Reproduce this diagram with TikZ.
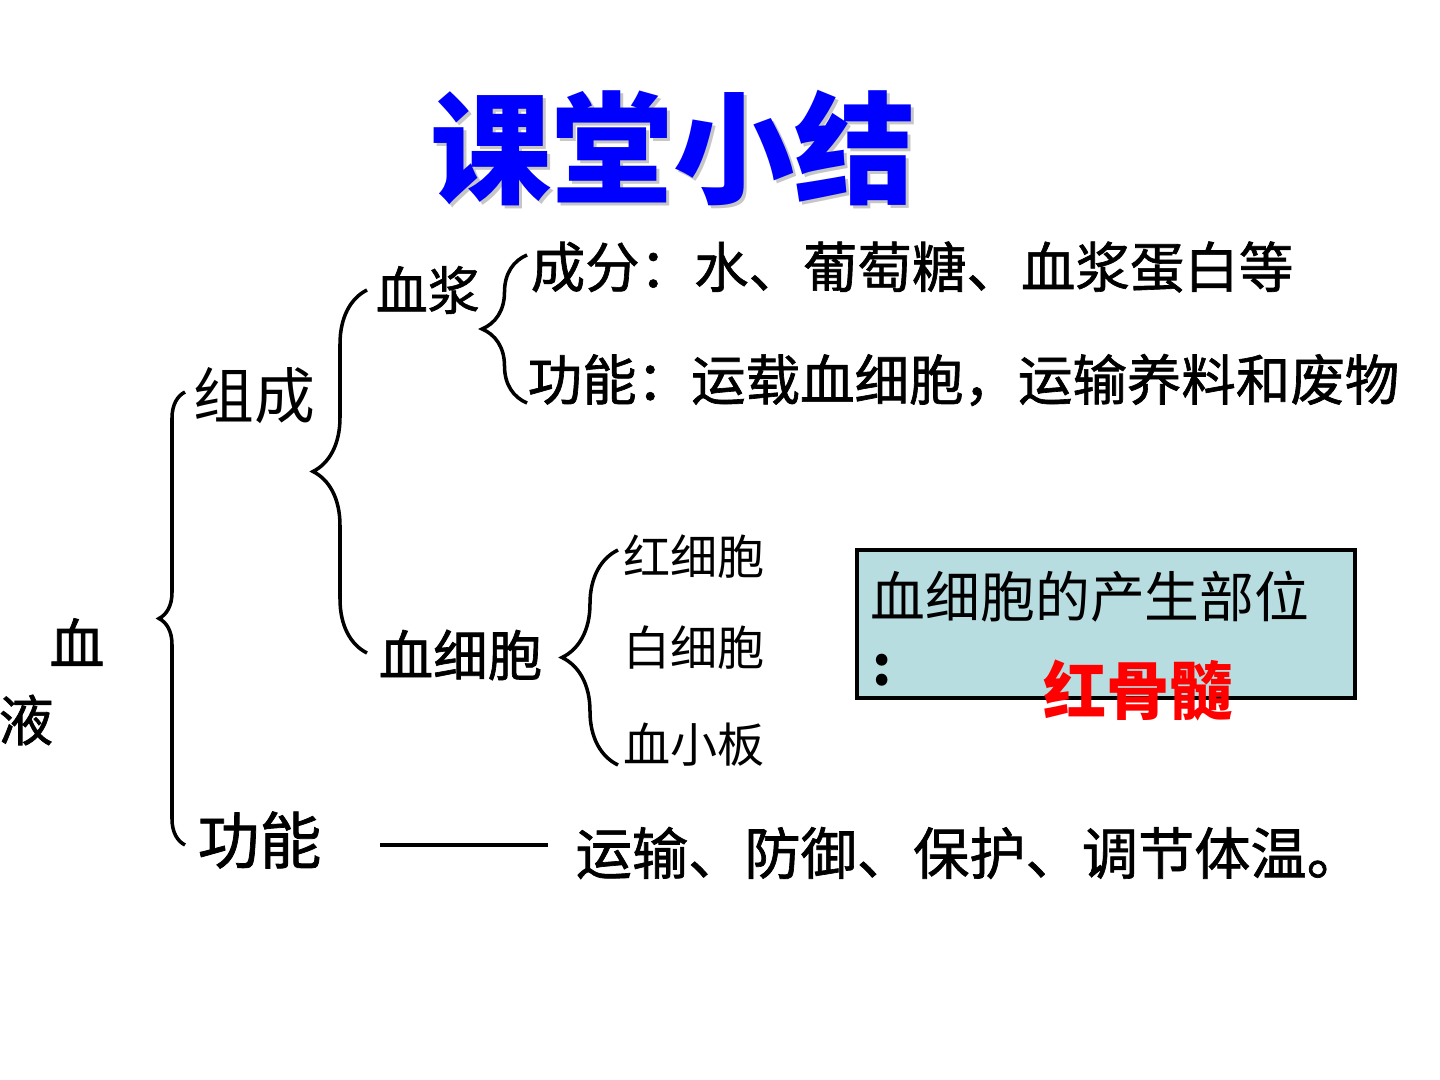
\documentclass[tikz,border=0pt]{standalone}
\usepackage{fontspec}
\usetikzlibrary{decorations.pathreplacing}
\newfontfamily\cjk{Noto Sans CJK SC}
\newfontfamily\cjkm[FakeBold=1.2]{Noto Sans CJK SC}
\definecolor{boxfill}{HTML}{B8DDE1}
\newcommand{\fs}[1]{\fontsize{#1}{#1}\selectfont}
\tikzset{
  brc/.style={decorate,decoration={brace,amplitude=#1,aspect=0.5},line width=1pt},
  lbl/.style={font=\cjkm\fs{15.5},inner sep=0pt,anchor=west},
  sml/.style={font=\cjk\fs{13.4},inner sep=0pt,anchor=west},
}
\begin{document}
\begin{tikzpicture}
  \useasboundingbox (0,0) rectangle (14.4,-10.8);
  % title
  \node[font=\cjk\bfseries\fs{34.5},gray!45] (shd) at (6.76,-1.51) {课堂小结};
  \node[font=\cjk\bfseries\fs{34.5},blue] (ttl) at (6.73,-1.48) {课堂小结};
  % left column
  \node[font=\cjkm\fs{15.6},inner sep=0pt] (xue) at (0.77,-6.42) {血};
  \node[font=\cjkm\fs{15.6},inner sep=0pt] (ye) at (0.26,-7.20) {液};
  \node[lbl,font=\cjk\fs{17.3}] (zc) at (1.93,-3.96) {组成};
  \node[lbl,font=\cjkm\fs{17.6}] (gn) at (1.97,-8.40) {功能};
  \node[lbl,font=\cjkm\fs{14.8}] (xj) at (3.75,-2.90) {血浆};
  \node[lbl] (xxb) at (3.78,-6.55) {血细胞};
  \node[lbl] (cf) at (5.30,-2.67) {成分：水、葡萄糖、血浆蛋白等};
  \node[lbl] (gn1) at (5.27,-3.80) {功能：运载血细胞，运输养料和废物};
  \foreach \n/\y/\t in {hxb/-5.57/红细胞, bxb/-6.48/白细胞, xxbn/-7.45/血小板} {
    \node[sml] (\n) at (6.23,\y) {\t};
  }
  \node[lbl,font=\cjkm\fs{16}] (ys) at (5.75,-8.53) {运输、防御、保护、调节体温。};
  % braces
  \coordinate (b1t) at (1.85,-3.92);
  \coordinate (b1b) at (1.85,-8.45);
  \coordinate (b2t) at (3.67,-2.90);
  \coordinate (b2b) at (3.67,-6.53);
  \coordinate (b3t) at (5.27,-2.55);
  \coordinate (b3b) at (5.27,-4.03);
  \coordinate (b4t) at (6.18,-5.50);
  \coordinate (b4b) at (6.18,-7.65);
  \draw[brc=0.26cm] (b1b) -- (b1t);
  \draw[brc=0.54cm] (b2b) -- (b2t);
  \draw[brc=0.45cm] (b3b) -- (b3t);
  \draw[brc=0.56cm] (b4b) -- (b4t);
  \coordinate (d1) at (3.80,-8.45);
  \coordinate (d2) at (5.48,-8.45);
  \draw[line width=0.9pt] (d1) -- (d2);
  % box
  \node[draw,line width=1.3pt,fill=boxfill,minimum width=4.98cm,minimum height=1.48cm] (bx) at (11.06,-6.24) {};
  \node[lbl,font=\cjk\fs{15.6}] (bt) at (8.70,-5.97) {血细胞的产生部位};
  \node[font=\cjk\bfseries\fs{15.6},inner sep=0pt] (cl) at (8.82,-6.70) {:};
  \node[font=\cjk\bfseries\fs{18},red,inner sep=0pt] (hgs) at (11.38,-6.90) {红骨髓};
\end{tikzpicture}
\end{document}
